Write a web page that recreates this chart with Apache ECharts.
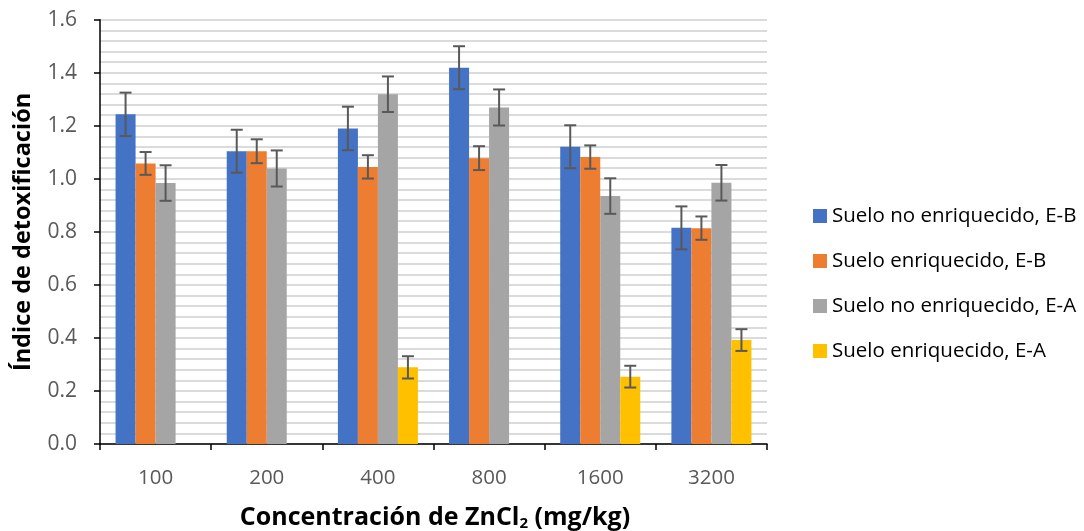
<!DOCTYPE html>
<html><head><meta charset="utf-8">
<script src="https://cdn.jsdelivr.net/npm/echarts@6/dist/echarts.min.js"></script>
<style>html,body{margin:0;padding:0;background:#fff}#c{width:1084px;height:531px}</style>
</head><body><div id="c"></div>
<script>
const categories = ['100','200','400','800','1600','3200'];
const seriesNames = ['Suelo no enriquecido, E-B','Suelo enriquecido, E-B','Suelo no enriquecido, E-A','Suelo enriquecido, E-A'];
const noEnrEB = [1.243, 1.104, 1.190, 1.419, 1.121, 0.815];
const enrEB   = [1.058, 1.104, 1.045, 1.078, 1.082, 0.814];
const noEnrEA = [0.984, 1.039, 1.319, 1.269, 0.935, 0.985];
const enrEA   = [null, null, 0.289, null, 0.254, 0.392];
const errNoEnrEB = [0.082, 0.081, 0.082, 0.081, 0.081, 0.081];
const errEnrEB   = [0.043, 0.045, 0.044, 0.045, 0.044, 0.044];
const errNoEnrEA = [0.067, 0.068, 0.067, 0.068, 0.067, 0.067];
const errEnrEA   = [null, null, 0.042, null, 0.041, 0.041];
const yTicks = [0, 0.2, 0.4, 0.6, 0.8, 1.0, 1.2, 1.4, 1.6];

const colors = ['#4472C4','#ED7D31','#A5A5A5','#FFC000'];
const values = [noEnrEB, enrEB, noEnrEA, enrEA];
const errs = [errNoEnrEB, errEnrEB, errNoEnrEA, errEnrEA];
const CAT_GAP = 0.28;
const FONT = '"Open Sans", sans-serif';

const chart = echarts.init(document.getElementById('c'));
const series = [];
values.forEach((vals, i) => {
  series.push({
    name: seriesNames[i], type: 'bar',
    data: vals.map(v => v == null ? '-' : v),
    barGap: '0%', barCategoryGap: (CAT_GAP*100)+'%',
    itemStyle: {color: colors[i]},
    emphasis: {disabled: true}
  });
});
values.forEach((vals, i) => {
  const data = [];
  vals.forEach((v, k) => { if (v != null && errs[i][k] != null) data.push([k, v - errs[i][k], v + errs[i][k]]); });
  series.push({
    type: 'custom', z: 10, silent: true,
    data: data,
    encode: {x: 0, y: [1, 2]},
    renderItem: function (params, api) {
      const idx = api.value(0);
      const catW = api.size([1, 0])[0];
      const barW = catW * (1 - CAT_GAP) / 4;
      const x = api.coord([idx, 0])[0] + (i - 1.5) * barW;
      const yl = api.coord([idx, api.value(1)])[1];
      const yh = api.coord([idx, api.value(2)])[1];
      const cap = 6;
      const st = {stroke: '#595959', lineWidth: 2};
      return {type: 'group', children: [
        {type: 'line', shape: {x1: x, y1: yl, x2: x, y2: yh}, style: st},
        {type: 'line', shape: {x1: x - cap, y1: yh, x2: x + cap, y2: yh}, style: st},
        {type: 'line', shape: {x1: x - cap, y1: yl, x2: x + cap, y2: yl}, style: st}
      ]};
    }
  });
});

chart.setOption({
  animation: false,
  textStyle: {fontFamily: FONT},
  grid: {left: 100, right: 317, top: 19.7, bottom: 87, containLabel: false},
  legend: {
    orient: 'vertical', left: 808, top: 199,
    data: seriesNames, icon: 'rect', itemWidth: 14, itemHeight: 14, itemGap: 21,
    textStyle: {fontSize: 20.5, color: '#000', fontFamily: FONT, lineHeight: 24}
  },
  xAxis: {
    type: 'category', data: categories,
    axisLine: {lineStyle: {color: '#000', width: 1.5}},
    axisTick: {show: true, length: 6, alignWithLabel: false, lineStyle: {color: '#000', width: 1.5}},
    axisLabel: {fontSize: 20.5, color: '#595959', margin: 24, fontFamily: FONT}
  },
  yAxis: {
    type: 'value', min: 0, max: 1.6, interval: 0.2,
    axisLine: {show: true, lineStyle: {color: '#000', width: 1.5}},
    axisTick: {show: true, length: 6, lineStyle: {color: '#000', width: 1.5}},
    axisLabel: {fontSize: 21, color: '#595959', margin: 23, fontFamily: FONT,
      formatter: v => yTicks.find(t => Math.abs(t - v) < 1e-6).toFixed(1)},
    splitLine: {show: true, lineStyle: {color: '#CFCFCF', width: 1.5}},
    minorTick: {show: false, splitNumber: 5},
    minorSplitLine: {show: true, lineStyle: {color: '#CFCFCF', width: 1.5}}
  },
  graphic: [
    {type: 'text', x: 435, y: 518, style: {
      text: '{b|Concentración de ZnCl}{s|2}{b| (mg/kg)}',
      align: 'center', verticalAlign: 'middle',
      rich: {
        b: {fontSize: 25, fontWeight: 'bold', fill: '#000', fontFamily: FONT},
        s: {fontSize: 15, fontWeight: 'bold', fill: '#000', fontFamily: FONT, padding: [12, 0, 0, 0]}
      }
    }},
    {type: 'text', x: 23, y: 232, rotation: Math.PI / 2, style: {
      text: 'Índice de detoxificación', align: 'center', verticalAlign: 'middle',
      fontSize: 23.5, fontWeight: 'bold', fill: '#000', fontFamily: FONT
    }}
  ],
  series: series
});
</script>
</body></html>
